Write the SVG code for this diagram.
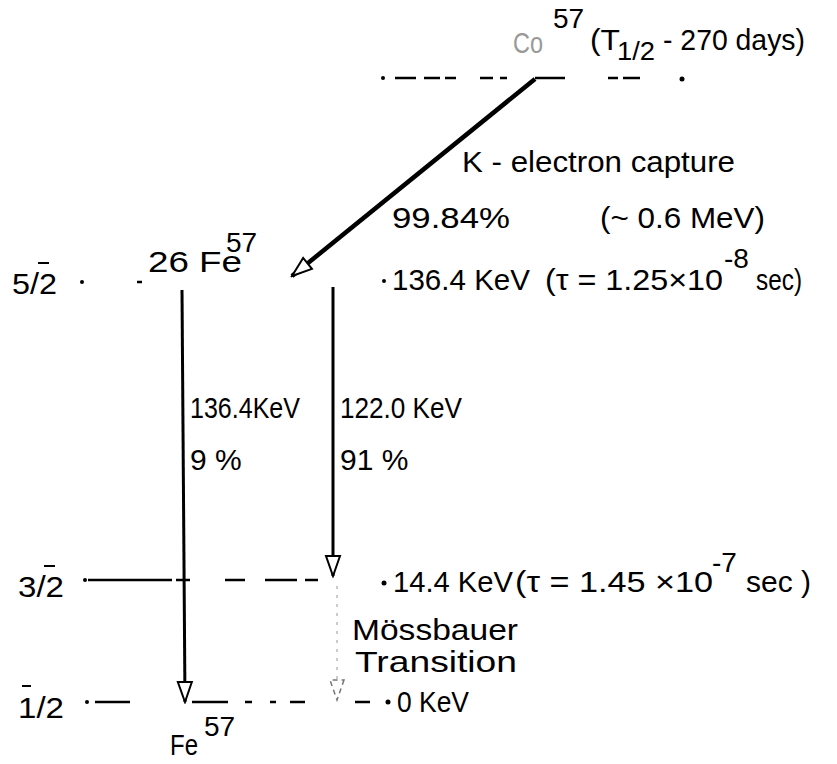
<svg xmlns="http://www.w3.org/2000/svg" width="837" height="764" viewBox="0 0 837 764">
<style>
text{font-family:"Liberation Sans","DejaVu Sans",Arial,sans-serif;font-size:30px;fill:#000}
.sup{font-size:28px}
.sub{font-size:26px}
.faint{fill:#999}
.lvl{stroke:#000;stroke-width:2.5;fill:none}
.bar{stroke:#000;stroke-width:2;fill:none}
.gam{stroke:#000;stroke-width:3;fill:none}
.dot{fill:#000}
</style>
<defs>
<marker id="open" viewBox="0 0 24 20" refX="22" refY="10" markerWidth="24" markerHeight="20" markerUnits="userSpaceOnUse" orient="auto">
<path d="M2,3 L22,10 L2,17 Z" fill="#fff" stroke="#000" stroke-width="2"/>
</marker>
<marker id="openFaint" viewBox="0 0 24 20" refX="22" refY="10" markerWidth="24" markerHeight="20" markerUnits="userSpaceOnUse" orient="auto">
<path d="M2,3 L22,10 L2,17 Z" fill="#fff" stroke="#777" stroke-width="1.5" stroke-dasharray="5 4"/>
</marker>
</defs>

<g id="co57">
<text x="513" y="53" class="faint" textLength="30" lengthAdjust="spacingAndGlyphs">Co</text>
<text x="553" y="28" class="sup">57</text>
<text x="590" y="50" textLength="30" lengthAdjust="spacingAndGlyphs">(T</text>
<text x="617" y="60" class="sub" textLength="38" lengthAdjust="spacingAndGlyphs">1/2</text>
<text x="663" y="50" textLength="142" lengthAdjust="spacingAndGlyphs">- 270 days)</text>
</g>

<g id="level-co">
<circle class="dot" cx="383" cy="78" r="2"/>
<path class="lvl" d="M395,78 H416 M424,78 H440 M445,78 H456 M480,78 H493 M500,78 H507 M535,78 H565 M608,78 H618 M623,78 H640"/>
<circle class="dot" cx="682" cy="79" r="2.5"/>
</g>

<g id="capture-label">
<text x="462" y="172" textLength="273" lengthAdjust="spacingAndGlyphs">K - electron capture</text>
<text x="392" y="228" textLength="118" lengthAdjust="spacingAndGlyphs">99.84%</text>
<text x="600" y="228" textLength="165" lengthAdjust="spacingAndGlyphs">(~ 0.6 MeV)</text>
</g>

<g id="fe-title">
<text x="148" y="272" textLength="94" lengthAdjust="spacingAndGlyphs">26 Fe</text>
<text x="226" y="252" class="sup">57</text>
</g>

<g id="level-52">
<text x="12" y="294" textLength="45" lengthAdjust="spacingAndGlyphs">5/2</text>
<path class="bar" d="M38,263 H49"/>
<circle class="dot" cx="82" cy="282" r="2"/>
<path class="lvl" d="M137,282 H142"/>
<circle class="dot" cx="384" cy="281" r="2"/>
<text x="392" y="290" textLength="138" lengthAdjust="spacingAndGlyphs">136.4 KeV</text>
<text x="545" y="290" textLength="178" lengthAdjust="spacingAndGlyphs">(τ = 1.25×10</text>
<text x="724" y="268" class="sup">-8</text>
<text x="756" y="290" textLength="46" lengthAdjust="spacingAndGlyphs">sec)</text>
</g>

<g id="level-32">
<text x="18" y="597" textLength="46" lengthAdjust="spacingAndGlyphs">3/2</text>
<path class="bar" d="M44,566 H55"/>
<circle class="dot" cx="85" cy="580" r="2"/>
<path class="lvl" d="M88,580 H172 M176,580 H190 M225,580 H245 M265,580 H297 M305,580 H318"/>
<circle class="dot" cx="384" cy="583" r="2.5"/>
<text x="393" y="592" textLength="120" lengthAdjust="spacingAndGlyphs">14.4 KeV</text>
<text x="515" y="592" textLength="198" lengthAdjust="spacingAndGlyphs">(τ  = 1.45 ×10</text>
<text x="712" y="572" class="sup">-7</text>
<text x="746" y="592">sec )</text>
<text x="352" y="640" textLength="166" lengthAdjust="spacingAndGlyphs">Mössbauer</text>
<text x="355" y="672" textLength="162" lengthAdjust="spacingAndGlyphs">Transition</text>
</g>

<g id="level-12">
<text x="18" y="718" textLength="46" lengthAdjust="spacingAndGlyphs">1/2</text>
<path class="bar" d="M22,686 H31"/>
<circle class="dot" cx="87" cy="702" r="2"/>
<path class="lvl" d="M95,702 H130 M192,702 H228 M245,702 H252 M270,702 H276 M290,702 H305 M355,702 H370"/>
<circle class="dot" cx="388" cy="702" r="2.5"/>
<text x="397" y="712" textLength="72" lengthAdjust="spacingAndGlyphs">0 KeV</text>
<text x="170" y="755" textLength="28" lengthAdjust="spacingAndGlyphs">Fe</text>
<text x="204" y="736" class="sup">57</text>
</g>

<g id="connectors">
<line x1="535" y1="79" x2="292" y2="276" stroke="#000" stroke-width="4.5" marker-end="url(#open)"/>
<line class="gam" x1="182" y1="290" x2="185" y2="702" marker-end="url(#open)"/>
<line class="gam" x1="333" y1="287" x2="333" y2="576" marker-end="url(#open)"/>
<line x1="337" y1="586" x2="337" y2="700" stroke="#bbb" stroke-width="1.5" stroke-dasharray="3 6" marker-end="url(#openFaint)"/>
</g>

<g id="gamma-labels">
<text x="190" y="418" textLength="110" lengthAdjust="spacingAndGlyphs">136.4KeV</text>
<text x="190" y="470">9 %</text>
<text x="340" y="418" textLength="122" lengthAdjust="spacingAndGlyphs">122.0 KeV</text>
<text x="340" y="470">91 %</text>
</g>
</svg>
